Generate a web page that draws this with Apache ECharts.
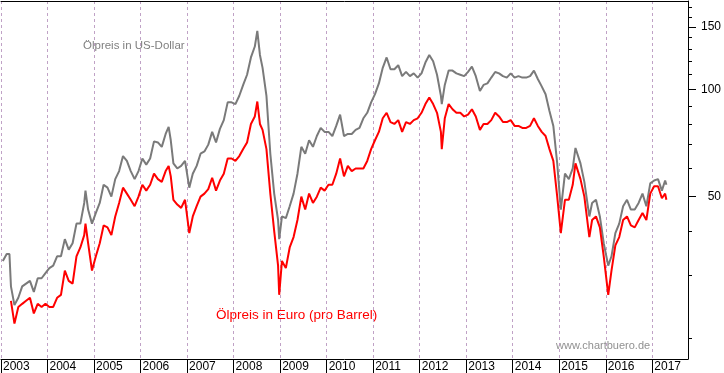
<!DOCTYPE html>
<html><head><meta charset="utf-8">
<script src="https://cdn.jsdelivr.net/npm/echarts@6/dist/echarts.min.js"></script>
<style>html,body{margin:0;padding:0;background:#fff}#c{width:724px;height:373px}</style>
</head><body><div id="c"></div>
<script>
const dates = [
'2003-01','2003-02','2003-03-06','2003-03-18','2003-04','2003-05','2003-06','2003-07','2003-08','2003-09','2003-10','2003-11','2003-12',
'2004-01','2004-02','2004-03','2004-04','2004-05','2004-06','2004-07','2004-08','2004-09','2004-10','2004-10-25','2004-11','2004-12',
'2005-01','2005-02','2005-03','2005-04','2005-05','2005-06','2005-07','2005-08','2005-09','2005-10','2005-11','2005-12',
'2006-01','2006-02','2006-03','2006-04','2006-05','2006-06','2006-07','2006-08-08','2006-08-25','2006-09','2006-10','2006-11','2006-12',
'2007-01-18','2007-02','2007-03','2007-04','2007-05','2007-06','2007-07','2007-08','2007-09','2007-10','2007-11','2007-12',
'2008-01','2008-02','2008-03','2008-04','2008-05','2008-06','2008-07-04','2008-07-25','2008-08','2008-09','2008-10','2008-11','2008-12','2008-12-24',
'2009-01','2009-02','2009-03','2009-04','2009-05','2009-06','2009-07','2009-08','2009-09','2009-10','2009-11','2009-12',
'2010-01','2010-02','2010-03','2010-04','2010-05','2010-06','2010-07','2010-08','2010-09','2010-10','2010-11','2010-12',
'2011-01','2011-02','2011-03','2011-04','2011-05','2011-06','2011-07','2011-08','2011-09','2011-10','2011-11','2011-12',
'2012-01','2012-02','2012-03','2012-04','2012-05','2012-06','2012-06-22','2012-07','2012-08','2012-09','2012-10','2012-11','2012-12',
'2013-01','2013-02','2013-03','2013-04-17','2013-05','2013-06','2013-07','2013-08','2013-09','2013-10','2013-11','2013-12',
'2014-01','2014-02','2014-03','2014-04','2014-05','2014-06','2014-07','2014-08','2014-09','2014-10','2014-11','2014-12',
'2015-01-13','2015-02','2015-03','2015-04','2015-05-06','2015-06','2015-07','2015-08-24','2015-09','2015-10','2015-11','2015-12',
'2016-01-20','2016-02','2016-03','2016-04','2016-05','2016-06','2016-07','2016-08','2016-09','2016-10','2016-11','2016-12',
'2017-01','2017-02','2017-03','2017-04-10','2017-04-20'
];
const usd = [
33,34.5,34.5,28,24.8,26,28,28.5,29,27,29.5,29.5,30.5,
31.5,32,34,34,38,35.5,37,42,42,48,52,46,42,
45,48,54,53,50,56,59,65,63,59,56,59,
64,61.5,64,71.5,71,69,75,78.5,72,62,60,61,63,
53,58,61,66,67,70,76,71,77.5,82,92,92,
91,96,103,110,123,132,146,125,115,96,66,51,43,38,
44,43.5,47,51,58,69,66,72,69,74,78,76,
76,74,79,85,74,75,75,77,78,83,86,92,
97,104,115,123,114,114,117,109,112,109,111,108,
111,119,125,120,110,96,91,103,113,113,111,110,109,
112,116,109,99,103,104,108,112,111,109,108,111,
108,109,108,108,109,113,107,102,97,87,79,62,
46,58,56,60,68.5,62,55,44,48,49,44,37,
32,34,39.5,42,47,49,46,46,48,51,47,54.5,
55.5,56,52,55.5,54
];
const eur = [
null,null,null,25.5,22,24.5,25,25.5,26,23.5,25,24.5,25,
24.5,24.5,26,26.5,31,29,28.5,34,36,39,42,37,31,
34,37,41.5,41,39,44,48,53,51,49,47,50,
54,52,54,58,56,55,59,61,57,49,47.5,46.5,49,
39.5,44,47,50,51,52.5,56.5,52,55.5,58,64,64,
63,65,68,71,80,84,92.5,80,77,68,51,40,32,26.5,
33,31.5,36,38.5,43,50,46,51,48,50,53,52,
54,54,58,64,57,61,59,60,60,60,63,68,
72,76,83,86,81,80,82,76,81,80,82,83,
86,91,95,91,86,76,68,83,91,88,86,86,84,
85,88,84,77,80,80,82,86,84,81,81,82,
79,79,78,78,79,83,79,76,74,68,63,50,
39.5,49,49,54,62,56,50,38.5,43,44,41,34,
26.5,31,36.5,38.5,43,44,41.5,41,43,45,43,51,
53.5,53.5,49.5,51,49
];
const majorTicks = [50, 100, 150];
const minorTicks = [20, 30, 40, 60, 70, 80, 90, 110, 120, 130, 140, 160, 170];

function toYear(s) {
  const p = s.split('-').map(Number);
  const d = p.length > 2 ? p[2] : 15;
  return p[0] + (p[1] - 1 + (d - 0.5) / 31) / 12;
}
const usdData = dates.map((d, i) => [toYear(d), usd[i]]);
const eurData = dates.map((d, i) => [toYear(d), eur[i]]).filter(p => p[1] != null);

const FONT = '"Liberation Sans", Arial, sans-serif';
const X_MIN = 2003, X_MAX = 2017.767, Y_MIN = 17.5, Y_MAX = 177.2;

const chart = echarts.init(document.getElementById('c'), null, {renderer: 'canvas'});
chart.setOption({
  animation: false,
  backgroundColor: '#fff',
  grid: {left: 1, right: 36, top: 1, bottom: 14, containLabel: false},
  xAxis: [{
    type: 'value', min: X_MIN, max: X_MAX, interval: 1, position: 'bottom',
    axisLine: {show: true, lineStyle: {color: '#000', width: 1}},
    axisTick: {show: true, inside: false, length: 14, lineStyle: {color: '#000', width: 1}},
    axisLabel: {show: true, showMaxLabel: false, formatter: v => (Number.isInteger(v) ? String(v) : ''),
      align: 'left', margin: 2, padding: [0, 0, 0, 2], fontSize: 12, fontFamily: FONT, color: '#000'},
    splitLine: {show: true, lineStyle: {color: '#c0a2c6', type: [3, 3], width: 1}}
  }, {
    type: 'value', min: X_MIN, max: X_MAX, position: 'top',
    axisLine: {show: true, lineStyle: {color: '#000', width: 1}},
    axisTick: {show: false}, axisLabel: {show: false}, splitLine: {show: false}
  }],
  yAxis: [{
    type: 'log', logBase: 10, min: Y_MIN, max: Y_MAX, position: 'right',
    axisLine: {show: true, lineStyle: {color: '#000', width: 1}},
    axisTick: {show: true, inside: false, length: 8, customValues: majorTicks, lineStyle: {color: '#000'}},
    axisLabel: {show: true, customValues: majorTicks, margin: 33, align: 'right', fontSize: 12, fontFamily: FONT, color: '#000'},
    splitLine: {show: false}, minorTick: {show: false}
  }, {
    type: 'log', logBase: 10, min: Y_MIN, max: Y_MAX, position: 'right',
    axisLine: {show: false},
    axisTick: {show: true, inside: false, length: 4, customValues: minorTicks, lineStyle: {color: '#000'}},
    axisLabel: {show: false}, splitLine: {show: false}
  }],
  series: [{
    name: 'USD', type: 'line', xAxisIndex: 0, yAxisIndex: 0, data: usdData,
    showSymbol: false, symbol: 'none', lineStyle: {color: '#7a7a7a', width: 2}, z: 2
  }, {
    name: 'EUR', type: 'line', xAxisIndex: 0, yAxisIndex: 0, data: eurData,
    showSymbol: false, symbol: 'none', lineStyle: {color: '#ff0000', width: 2}, z: 3
  }],
  graphic: [
    {type: 'text', style: {x: 83, y: 46, text: 'Ölpreis in US-Dollar', fill: '#808080', font: '11.5px ' + FONT, textVerticalAlign: 'middle'}},
    {type: 'text', style: {x: 216, y: 315, text: 'Ölpreis in Euro (pro Barrel)', fill: '#ff0000', font: '13.5px ' + FONT, textVerticalAlign: 'middle'}},
    {type: 'text', style: {x: 556, y: 345.5, text: 'www.chartbuero.de', fill: '#909090', font: '11px ' + FONT, textVerticalAlign: 'middle'}}
  ]
});
</script>
</body></html>
